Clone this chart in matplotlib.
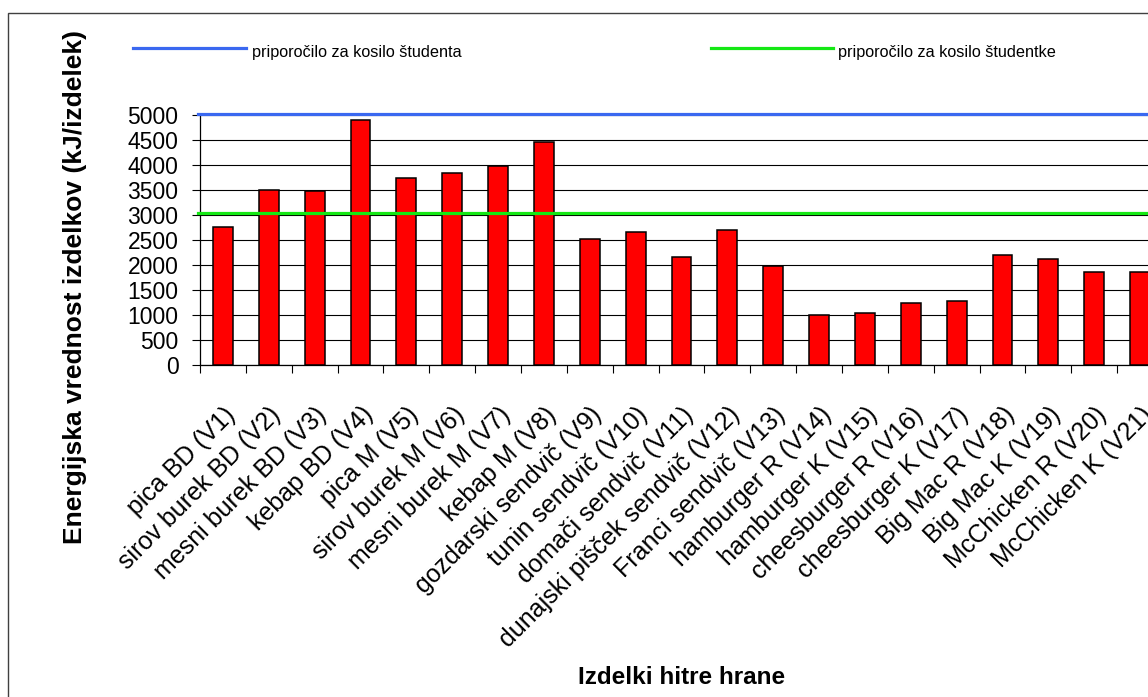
"""Energy content of fast food items against the lunch recommendation
for male and female students.
"""
import numpy as np
import matplotlib
matplotlib.use("Agg")
import matplotlib.pyplot as plt
from matplotlib.patches import Rectangle
from matplotlib.lines import Line2D

plt.rcParams["font.family"] = ["Liberation Sans", "DejaVu Sans"]

# -------------------------------------------------------
# Data.
# -------------------------------------------------------
items = [
    "pica BD (V1)", "sirov burek BD (V2)", "mesni burek BD (V3)",
    "kebap BD (V4)", "pica M (V5)", "sirov burek M (V6)",
    "mesni burek M (V7)", "kebap M (V8)", "gozdarski sendvič (V9)",
    "tunin sendvič (V10)", "domači sendvič (V11)",
    "dunajski pišček sendvič (V12)", "Franci sendvič (V13)",
    "hamburger R (V14)", "hamburger K (V15)", "cheesburger R (V16)",
    "cheesburger K (V17)", "Big Mac R (V18)", "Big Mac K (V19)",
    "McChicken R (V20)", "McChicken K (V21)",
]
energy_kj = [
    2770, 3510, 3480, 4900, 3750, 3850, 3990, 4460, 2530,
    2670, 2170, 2700, 1990, 1010, 1050, 1250, 1290, 2200,
    2130, 1860, 1860,
]
rec_student_m = 5030  # kJ, lunch for a male student
rec_student_f = 3045  # kJ, lunch for a female student
label_m = "priporočilo za kosilo študenta"
label_f = "priporočilo za kosilo študentke"
yticks = [0, 500, 1000, 1500, 2000, 2500, 3000, 3500, 4000, 4500, 5000]

# -------------------------------------------------------
# Plot.
# -------------------------------------------------------
W, H = 1148, 697
fig = plt.figure(figsize=(W/100, H/100), dpi=100)

# plot area runs a little past the right edge of the sheet:
ax_left, ax_right = 200, 1163
ax_bottom, ax_top = 365, 115
ax = fig.add_axes([
    ax_left/W,
    1 - ax_bottom/H,
    (ax_right - ax_left)/W,
    (ax_bottom - ax_top)/H,
    ])

x = np.arange(len(items))
ax.bar(
    x,
    energy_kj,
    width=0.43,
    color="#ff0000",
    edgecolor="black",
    linewidth=1.1,
    zorder=3,
    )

# recommendations:
ax.plot([-0.55, len(items)], [rec_student_m]*2, color="#3a68f0",
        linewidth=2.3, clip_on=False, zorder=4)
ax.plot([-0.55, len(items)], [rec_student_f]*2, color="#14e814",
        linewidth=2.3, clip_on=False, zorder=4)

ax.set_xlim(-0.5, len(items) - 0.5)
ax.set_ylim(0, 5000)
ax.set_yticks(yticks)
ax.yaxis.grid(True, color="black", linewidth=0.8, zorder=0)
ax.set_axisbelow(True)
for side in ["top", "right"]:
    ax.spines[side].set_visible(False)
ax.spines["left"].set_linewidth(0.9)
ax.spines["bottom"].set_linewidth(0.9)

ax.tick_params(axis="y", direction="out", length=5.5, width=0.8,
               pad=10, labelsize=16.5)

# tick marks between the categories, labels under each bar:
ax.set_xticks(np.arange(-0.5, len(items)), labels=[""]*(len(items) + 1))
ax.set_xticks(x, labels=items, minor=True)
ax.tick_params(axis="x", which="major", direction="out", length=6, width=0.8)
ax.tick_params(axis="x", which="minor", length=0, pad=27, labelsize=18)
for lab in ax.get_xticklabels(minor=True):
    lab.set_rotation(45)
    lab.set_ha("right")
    lab.set_va("top")
    lab.set_rotation_mode("anchor")

ax.set_ylabel("Energijska vrednost izdelkov (kJ/izdelek)",
              fontsize=19, fontweight="bold")
ax.yaxis.set_label_coords(-113/(ax_right - ax_left), 0.31)
fig.text((ax_left + ax_right)/2/W, 1 - 677/H, "Izdelki hitre hrane",
         fontsize=17.5, fontweight="bold", ha="center", va="center")

# legend along the top:
fig.add_artist(Line2D([133/W, 246/W], [1 - 48/H]*2, color="#3a68f0",
                      linewidth=2.3))
fig.text(252/W, 1 - 52/H, label_m, fontsize=11.7, va="center")
fig.add_artist(Line2D([711/W, 833/W], [1 - 48/H]*2, color="#14e814",
                      linewidth=2.3))
fig.text(838/W, 1 - 52/H, label_f, fontsize=11.7, va="center")

# chart frame:
fig.add_artist(Rectangle((8/W, -0.1), 1.2, 1.1 - 13/H, fill=False,
                         edgecolor="#404040", linewidth=1.0,
                         transform=fig.transFigure))

fig.savefig("out.png", dpi=100)
